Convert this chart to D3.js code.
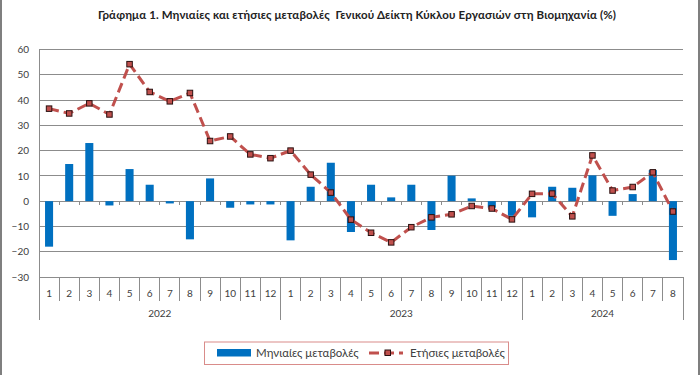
<!DOCTYPE html>
<html><head><meta charset="utf-8">
<script src="https://cdn.jsdelivr.net/npm/d3@7/dist/d3.min.js"></script>
<style>body{margin:0;background:#fff}svg{display:block}text{font-family:Lato,"Open Sans",sans-serif}</style>
</head><body><svg id="c" width="700" height="375"></svg>
<script>
const title = "Γράφημα 1.  Μηνιαίες και ετήσιες μεταβολές\u00a0\u00a0Γενικού Δείκτη Κύκλου Εργασιών στη Βιομηχανία (%)";
const years = ["2022","2023","2024"];
const monthsPerYear = [12,12,8];
const monthly = [-18,14.7,23.0,-1.7,12.7,6.5,-0.9,-15.1,9.0,-2.6,-1.3,-1.3,
  -15.5,5.7,15.2,-12.2,6.5,1.5,6.5,-11.4,10.1,1.1,-2.6,-5.8,
  -6.4,5.7,5.3,10.2,-5.8,2.8,12.3,-23.3];
const yearly = [36.6,34.7,38.7,34.3,54.2,43.2,39.5,42.8,23.8,25.6,18.5,17.0,
  20.0,10.5,3.4,-7.3,-12.5,-16.3,-10.3,-6.4,-5.2,-1.9,-2.9,-7.2,
  2.9,3.0,-6.0,18.1,4.2,5.6,11.4,-4.1];
const yTicks = [-30,-20,-10,0,10,20,30,40,50,60];
const seriesNames = ["Μηνιαίες μεταβολές","Ετήσιες μεταβολές"];

const cats = [];
years.forEach((y,i)=>{for(let m=1;m<=monthsPerYear[i];m++) cats.push({year:y,month:m,key:y+"-"+m});});

const svg = d3.select("#c");
const L=39,R=683,T=49.5,B=277;
const x = d3.scaleBand().domain(cats.map(d=>d.key)).range([L,R]).paddingInner(0.6).paddingOuter(0.3);
const xb = d3.scaleBand().domain(cats.map(d=>d.key)).range([L,R]);
const y = d3.scaleLinear().domain([-30,60]).range([B,T]);
const grid="#8c8c8c", txt="#404040";

svg.append("line").attr("x1",1).attr("x2",1).attr("y1",0).attr("y2",375).attr("stroke","#555").attr("stroke-width",1.5);
svg.append("line").attr("x1",699).attr("x2",699).attr("y1",0).attr("y2",375).attr("stroke","#555").attr("stroke-width",1.5);

svg.append("text").attr("x",98).attr("y",19)
  .attr("font-size",11.5).attr("font-weight","bold").attr("fill","#222")
  .attr("textLength",518).attr("lengthAdjust","spacing").text(title);

// gridlines
svg.append("g").selectAll("line").data(yTicks).join("line")
  .attr("x1",L).attr("x2",R).attr("y1",d=>y(d)).attr("y2",d=>y(d))
  .attr("stroke",grid).attr("stroke-width",1).attr("shape-rendering","crispEdges");
// y axis
const ya = svg.append("g").attr("transform",`translate(${L},0)`)
  .call(d3.axisLeft(y).tickValues(yTicks).tickSize(0).tickPadding(10));
ya.select(".domain").remove();
ya.selectAll("text").attr("font-size",10).attr("fill",txt).attr("font-family","Lato,sans-serif");
svg.append("line").attr("x1",L).attr("x2",L).attr("y1",T).attr("y2",320).attr("stroke",grid).attr("shape-rendering","crispEdges");

// zero axis tick marks
svg.append("g").selectAll("line").data(cats.slice(1)).join("line")
  .attr("x1",d=>xb(d.key)).attr("x2",d=>xb(d.key)).attr("y1",y(0)).attr("y2",y(0)+4)
  .attr("stroke",grid).attr("shape-rendering","crispEdges");

// bars
svg.append("g").selectAll("rect").data(cats).join("rect")
  .attr("x",d=>x(d.key)).attr("width",x.bandwidth())
  .attr("y",(d,i)=>y(Math.max(0,monthly[i]))).attr("height",(d,i)=>Math.abs(y(monthly[i])-y(0)))
  .attr("fill","#0070c0");

// month labels & separators
svg.append("g").selectAll("line").data(cats.slice(1)).join("line")
  .attr("x1",d=>xb(d.key)).attr("x2",d=>xb(d.key)).attr("y1",B).attr("y2",d=>d.month===1?320:301)
  .attr("stroke",grid).attr("shape-rendering","crispEdges");
svg.append("line").attr("x1",R).attr("x2",R).attr("y1",B).attr("y2",320).attr("stroke",grid).attr("shape-rendering","crispEdges");
svg.append("g").selectAll("text").data(cats).join("text")
  .attr("x",d=>xb(d.key)+xb.bandwidth()/2).attr("y",297).attr("text-anchor","middle")
  .attr("font-size",10).attr("fill",txt).text(d=>d.month);
// year labels
let start=0;
years.forEach((yr,i)=>{
  const a=xb(cats[start].key), b=xb(cats[start+monthsPerYear[i]-1].key)+xb.bandwidth();
  svg.append("text").attr("x",(a+b)/2).attr("y",317).attr("text-anchor","middle")
    .attr("font-size",10).attr("fill",txt).text(yr);
  start+=monthsPerYear[i];
});

// line
const lineCol="#c0504d";
const line = d3.line().x((d,i)=>xb(cats[i].key)+xb.bandwidth()/2).y(d=>y(d));
svg.append("path").datum(yearly).attr("d",line).attr("fill","none")
  .attr("stroke",lineCol).attr("stroke-width",3).attr("stroke-dasharray","10,5");
svg.append("g").selectAll("rect").data(yearly).join("rect")
  .attr("x",(d,i)=>xb(cats[i].key)+xb.bandwidth()/2-2.75).attr("y",d=>y(d)-2.75)
  .attr("width",5.5).attr("height",5.5).attr("fill",lineCol).attr("stroke","#2a1010").attr("stroke-width",1);

// legend
const lg = svg.append("g");
lg.append("rect").attr("x",204.5).attr("y",342).attr("width",304).attr("height",22.5)
  .attr("fill","#fff").attr("stroke","#d98c8a").attr("stroke-width",1);
lg.append("rect").attr("x",217).attr("y",349).attr("width",34).attr("height",7.5).attr("fill","#0070c0");
lg.append("text").attr("x",256).attr("y",357).attr("font-size",11.5).attr("fill",txt).text(seriesNames[0]);
lg.append("line").attr("x1",369).attr("x2",403).attr("y1",353).attr("y2",353)
  .attr("stroke",lineCol).attr("stroke-width",3).attr("stroke-dasharray","10,5");
lg.append("rect").attr("x",385).attr("y",350).attr("width",5.5).attr("height",5.5).attr("fill",lineCol).attr("stroke","#2a1010");
lg.append("text").attr("x",410).attr("y",357).attr("font-size",11.5).attr("fill",txt).text(seriesNames[1]);
</script></body></html>
